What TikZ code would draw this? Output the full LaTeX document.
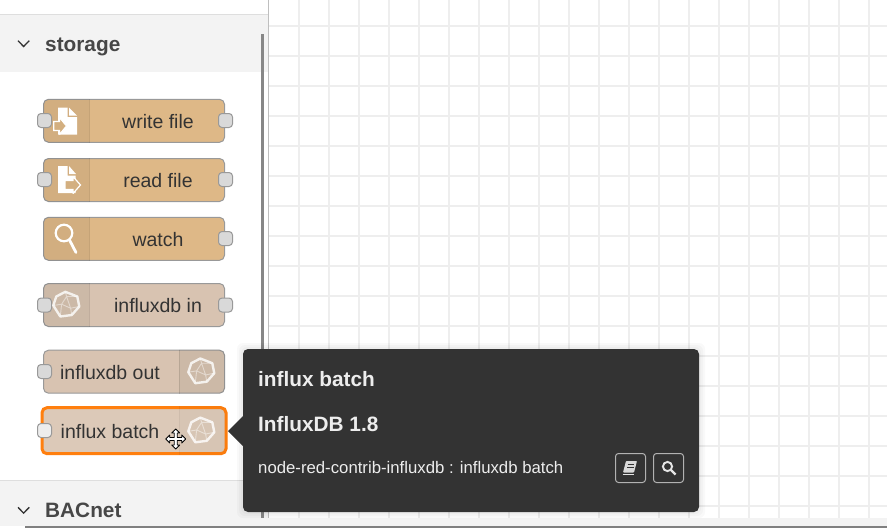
\documentclass[tikz,border=0pt]{standalone}
\usepackage{fontspec}
\setmainfont{Liberation Sans}
\definecolor{tanfill}{HTML}{DEB887}
\definecolor{influxfill}{HTML}{D8C3B1}
\definecolor{batchfill}{HTML}{DCC9B8}
\definecolor{tipfill}{HTML}{333333}
\definecolor{textcol}{HTML}{333333}
\definecolor{headfill}{HTML}{F3F3F3}
\definecolor{gridcol}{HTML}{EEEEEE}
\definecolor{selcol}{HTML}{FF7F0E}
\newcommand{\nodefont}{\fontsize{19.5}{22}\selectfont}
\newcommand{\headfont}{\fontsize{20.8}{24}\selectfont\bfseries}
\newcommand{\shadeleft}[1]{
    \fill[iconshade] ([xshift=46]#1.north west) [rounded corners=5] -- (#1.north west) -- (#1.south west) [sharp corners] -- ([xshift=46]#1.south west) -- cycle;
    \draw[icondiv] ([xshift=46]#1.north west) -- ([xshift=46]#1.south west);
}
\newcommand{\shaderight}[2]{
    \fill[iconshade] ([xshift=-#2]#1.north east) [rounded corners=5] -- (#1.north east) -- (#1.south east) [sharp corners] -- ([xshift=-#2]#1.south east) -- cycle;
    \draw[icondiv] ([xshift=-#2]#1.north east) -- ([xshift=-#2]#1.south east);
}
\tikzset{
    flownode/.style={draw=black!40,line width=1,rounded corners=5,minimum width=181,minimum height=43,inner sep=0},
    nodeport/.style={draw=black!40,fill=black!15,line width=1,rounded corners=3.5,minimum width=14,minimum height=14,inner sep=0},
    nodelabel/.style={text=textcol,font=\nodefont,inner sep=0},
    headlabel/.style={text=textcol!90!white,font=\headfont,inner sep=0,anchor=west},
    iconshade/.style={fill=black,fill opacity=.05},
    icondiv/.style={draw=black,draw opacity=.1,line width=1},
    tipbtn/.style={draw=black!30,line width=1,rounded corners=3,minimum width=30,minimum height=29,inner sep=0},
    influxicon/.pic={
        \draw[white,line width=2.4,line join=round,opacity=.8] (-1,-12.7) -- (11,-8) -- (13,2) -- (5.5,10.5) -- (-6,12) -- (-13,1) -- (-10,-8) -- cycle;
        \draw[white,line width=.9,opacity=.45] (-4.7,-.3) -- (.3,-8) -- (4.3,3.7) -- cycle (.3,-8) -- (-1,-12.7) (4.3,3.7) -- (13,2) (4.3,3.7) -- (5.5,10.5) (-4.7,-.3) -- (-13,1) (-4.7,-.3) -- (-6,12) (.3,-8) -- (11,-8);
    },
    movecursor/.pic={
        \draw[black,fill=white,line width=.8,line join=round] (0,-10) -- (4,-6) -- (1.5,-6) -- (1.5,-1.5) -- (6,-1.5) -- (6,-4) -- (10,0) -- (6,4) -- (6,1.5) -- (1.5,1.5) -- (1.5,6) -- (4,6) -- (0,10) -- (-4,6) -- (-1.5,6) -- (-1.5,1.5) -- (-6,1.5) -- (-6,4) -- (-10,0) -- (-6,-4) -- (-6,-1.5) -- (-1.5,-1.5) -- (-1.5,-6) -- (-4,-6) -- cycle;
    }
}
\begin{document}
\begin{tikzpicture}[x=1pt,y=-1pt]
    \useasboundingbox (0,0) rectangle (887,528);
    \fill[white] (0,0) rectangle (887,528);
    % workspace grid
    \foreach \gx in {299,329,...,869} \draw[gridcol,line width=2] (\gx,0) -- (\gx,518);
    \foreach \gy in {25.7,55.7,...,505.7} \draw[gridcol,line width=2] (269,\gy) -- (887,\gy);
    \fill[headfill] (0,518) rectangle (887,526);
    \fill[black!50] (25,526) rectangle (887,528);
    % palette
    \fill[white] (0,0) rectangle (268,518);
    \draw[black!25,line width=1.2] (268.5,0) -- (268.5,518);
    \fill[headfill] (0,15) rectangle (268,72);
    \draw[black!13,line width=1] (0,14.5) -- (268,14.5);
    \fill[headfill] (0,481) rectangle (268,518);
    \draw[black!13,line width=1] (0,480.5) -- (268,480.5);
    \fill[black!47] (261,34) rectangle (264,518);
    \node[headlabel] (storage) at (45,47) {storage};
    \node[headlabel] (bacnet) at (45,510) {BACnet};
    \draw[textcol,line width=1.3] (18,40.7) -- (23.6,46.5) -- (29.3,40.7);
    \draw[textcol,line width=1.3] (18,507.3) -- (23.6,513.1) -- (29.3,507.3);
    % palette nodes
    \node[flownode,fill=tanfill] (writefile) at (134,120.8) {};
    \node[flownode,fill=tanfill] (readfile) at (134,180) {};
    \node[flownode,fill=tanfill] (watch) at (134,238.8) {};
    \node[flownode,fill=influxfill] (influxin) at (134,305) {};
    \node[flownode,fill=influxfill] (influxout) at (134,371.7) {};
    \node[flownode,fill=batchfill,draw=selcol,line width=3,minimum width=184,minimum height=46] (influxbatch) at (134,430.7) {};
    \shadeleft{writefile}
    \shadeleft{readfile}
    \shadeleft{watch}
    \shadeleft{influxin}
    \shaderight{influxout}{46}
    {\tikzset{iconshade/.append style={fill opacity=.02},icondiv/.append style={draw opacity=.05}}
    \shaderight{influxbatch}{48}}
    \node[nodelabel] (writelabel) at (158,122) {write file};
    \node[nodelabel] (readlabel) at (158,181) {read file};
    \node[nodelabel] (watchlabel) at (158,240) {watch};
    \node[nodelabel] (inlabel) at (158,306) {influxdb in};
    \node[nodelabel] (outlabel) at (110,373) {influxdb out};
    \node[nodelabel] (batchlabel) at (110,432) {influx batch};
    \node[nodeport] (writefile-in) at (44.5,120.5) {};
    \node[nodeport] (writefile-out) at (225.5,120.5) {};
    \node[nodeport] (readfile-in) at (44.5,179.5) {};
    \node[nodeport] (readfile-out) at (225.5,179.5) {};
    \node[nodeport] (watch-out) at (225.5,238.5) {};
    \node[nodeport] (influxin-in) at (44.5,305) {};
    \node[nodeport] (influxin-out) at (225.5,305) {};
    \node[nodeport] (influxout-in) at (44.5,371.5) {};
    \node[nodeport,fill=black!7] (influxbatch-in) at (44.5,430.5) {};
    % icons
    \fill[white] (58,107.5) -- (67.5,107.5) -- (67.5,117) -- (77,117) -- (77,134.7) -- (58,134.7) -- cycle;
    \fill[white] (69,107.5) -- (77,115.5) -- (69,115.5) -- cycle;
    \draw[white,fill=tanfill!95!black,line width=1.2,miter limit=2] (53.8,121.5) -- (59.5,121.5) -- (59.5,117.5) -- (66.5,126) -- (59.5,134.5) -- (59.5,130.5) -- (53.8,130.5) -- cycle;
    \fill[white] (58,166) -- (67.5,166) -- (67.5,175.5) -- (75.5,175.5) -- (75.5,193) -- (58,193) -- cycle;
    \fill[white] (69,166) -- (76,174) -- (69,174) -- cycle;
    \draw[white,fill=tanfill!95!black,line width=1.2,miter limit=2] (65,180.5) -- (73,180.5) -- (73,176.5) -- (80.5,185) -- (73,193.5) -- (73,189.5) -- (65,189.5) -- cycle;
    \fill[white] (58,176) rectangle (65,193);
    \draw[white,line width=2.2] (64,233) circle (8.3);
    \draw[white,line width=2.8,line cap=round] (69.5,240) -- (76,252.5);
    \pic at (66.3,304.5) {influxicon};
    \pic at (201.3,371.2) {influxicon};
    \pic at (201.3,430.3) {influxicon};
    % tooltip
    \foreach \sh in {6,4,2} \fill[black,opacity=.025,rounded corners=6] (243-\sh,349-\sh) rectangle (699+\sh,512+\sh);
    \fill[tipfill,rounded corners=5] (243,349) rectangle (699,512);
    \fill[tipfill] (243,416) -- (228,431) -- (243,446) -- cycle;
    \node[headlabel,text=white!93!black] (tiptitle) at (258,379) {influx batch};
    \node[headlabel,text=white!93!black] (tipname) at (258,424) {InfluxDB 1.8};
    \node[anchor=west,inner sep=0,text=white!93!black,font=\fontsize{16.75}{18}\selectfont] (tipmodule) at (258,467.5) {node-red-contrib-influxdb : influxdb batch};
    \node[tipbtn] (bookbtn) at (630.5,468) {};
    \node[tipbtn] (searchbtn) at (668.5,468) {};
    \fill[white!85!black,rounded corners=.8] (626,461) -- (637,461) -- (634,472.5) -- (623,472.5) -- cycle;
    \draw[tipfill,line width=.8] (627.5,464.5) -- (634,464.5) (627,467.5) -- (633.5,467.5);
    \draw[white!90!black,line width=1] (622.5,474) -- (633.5,474);
    \draw[white!90!black,line width=1.9] (667.5,466.5) circle (4.6);
    \draw[white!90!black,line width=2.3] (670.8,469.8) -- (675.5,474.5);
    % pointer
    \pic at (175.7,439) {movecursor};
\end{tikzpicture}
\end{document}
